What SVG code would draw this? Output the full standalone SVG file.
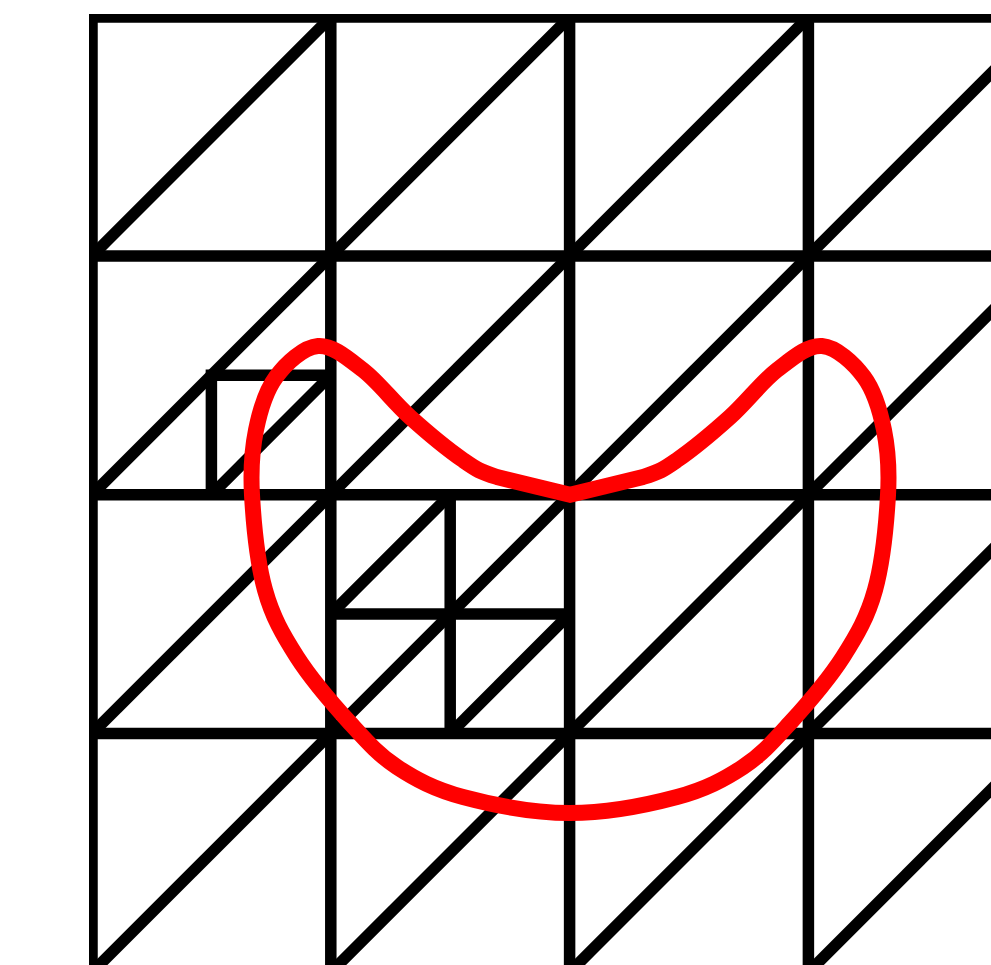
<svg xmlns="http://www.w3.org/2000/svg" width="991" height="965" viewBox="0 0 991 965">
  <style>
    .grid { stroke: #000; stroke-width: 11.5; fill: none; stroke-linecap: square; }
    .diag { stroke: #000; stroke-width: 11.5; fill: none; stroke-linecap: butt; }
    .curve { stroke: #ff0000; stroke-width: 16; fill: none; stroke-linejoin: miter; }
  </style>
  <defs>
    <clipPath id="plot">
      <rect x="89" y="14" width="902" height="951"/>
    </clipPath>
  </defs>
  <rect width="991" height="965" fill="#fff"/>
  <g id="mesh" clip-path="url(#plot)">
    <g id="grid-lines">
      <line class="grid" x1="92" y1="17.1" x2="92" y2="972.3"/>
      <line class="grid" x1="330.8" y1="17.1" x2="330.8" y2="972.3"/>
      <line class="grid" x1="569.6" y1="17.1" x2="569.6" y2="972.3"/>
      <line class="grid" x1="808.4" y1="17.1" x2="808.4" y2="972.3"/>
      <line class="grid" x1="92" y1="17.1" x2="1047.2" y2="17.1"/>
      <line class="grid" x1="92" y1="255.9" x2="1047.2" y2="255.9"/>
      <line class="grid" x1="92" y1="494.7" x2="1047.2" y2="494.7"/>
      <line class="grid" x1="92" y1="733.5" x2="1047.2" y2="733.5"/>
    </g>
    <g id="diagonals">
      <line class="diag" x1="92" y1="255.9" x2="330.8" y2="17.1"/>
      <line class="diag" x1="92" y1="494.7" x2="569.6" y2="17.1"/>
      <line class="diag" x1="92" y1="733.5" x2="808.4" y2="17.1"/>
      <line class="diag" x1="92" y1="972.3" x2="1047.2" y2="17.1"/>
      <line class="diag" x1="330.8" y1="972.3" x2="1047.2" y2="255.9"/>
      <line class="diag" x1="569.6" y1="972.3" x2="1047.2" y2="494.7"/>
      <line class="diag" x1="808.4" y1="972.3" x2="1047.2" y2="733.5"/>
    </g>
    <g id="refine-left">
      <line class="diag" x1="211.4" y1="375.3" x2="211.4" y2="494.7"/>
      <line class="diag" x1="205.65" y1="375.3" x2="330.8" y2="375.3"/>
      <line class="diag" x1="211.4" y1="494.7" x2="330.8" y2="375.3"/>
    </g>
    <g id="refine-center">
      <line class="diag" x1="450.2" y1="494.7" x2="450.2" y2="733.5"/>
      <line class="diag" x1="330.8" y1="614.1" x2="569.6" y2="614.1"/>
      <line class="diag" x1="330.8" y1="614.1" x2="450.2" y2="494.7"/>
      <line class="diag" x1="450.2" y1="733.5" x2="569.6" y2="614.1"/>
    </g>
  </g>
  <g id="curve">
    <path class="curve" d="M570,494.7 L497,477
      C479.2,471.3 477.5,470 463,460
      C448.5,450 426.7,432 410,417
      C393.3,402 378.3,381.8 363,370
      C347.7,358.2 332.5,344.8 318,346
      C303.5,347.2 286.3,363 276,377
      C265.7,391 260,410.3 256,430
      C252,449.7 250.5,468.3 252,495
      C253.5,521.7 257.5,563 265,590
      C272.5,617 282.8,634.8 297,657
      C311.2,679.2 333.3,704.7 350,723
      C366.7,741.3 378.2,754.7 397,767
      C415.8,779.3 434.2,789.3 463,797
      C491.8,804.7 534.3,813 570,813
      C605.7,813 648.2,804.7 677,797
      C705.8,789.3 724.2,779.3 743,767
      C761.8,754.7 773.3,741.3 790,723
      C806.7,704.7 828.8,679.2 843,657
      C857.2,634.8 867.5,617 875,590
      C882.5,563 886.5,521.7 888,495
      C889.5,468.3 888,449.7 884,430
      C880,410.3 874.3,391 864,377
      C853.7,363 836.5,347.2 822,346
      C807.5,344.8 792.3,358.2 777,370
      C761.7,381.8 746.7,402 730,417
      C713.3,432 691.5,450 677,460
      C662.5,470 660.8,471.3 643,477
      Z"/>
  </g>
</svg>
